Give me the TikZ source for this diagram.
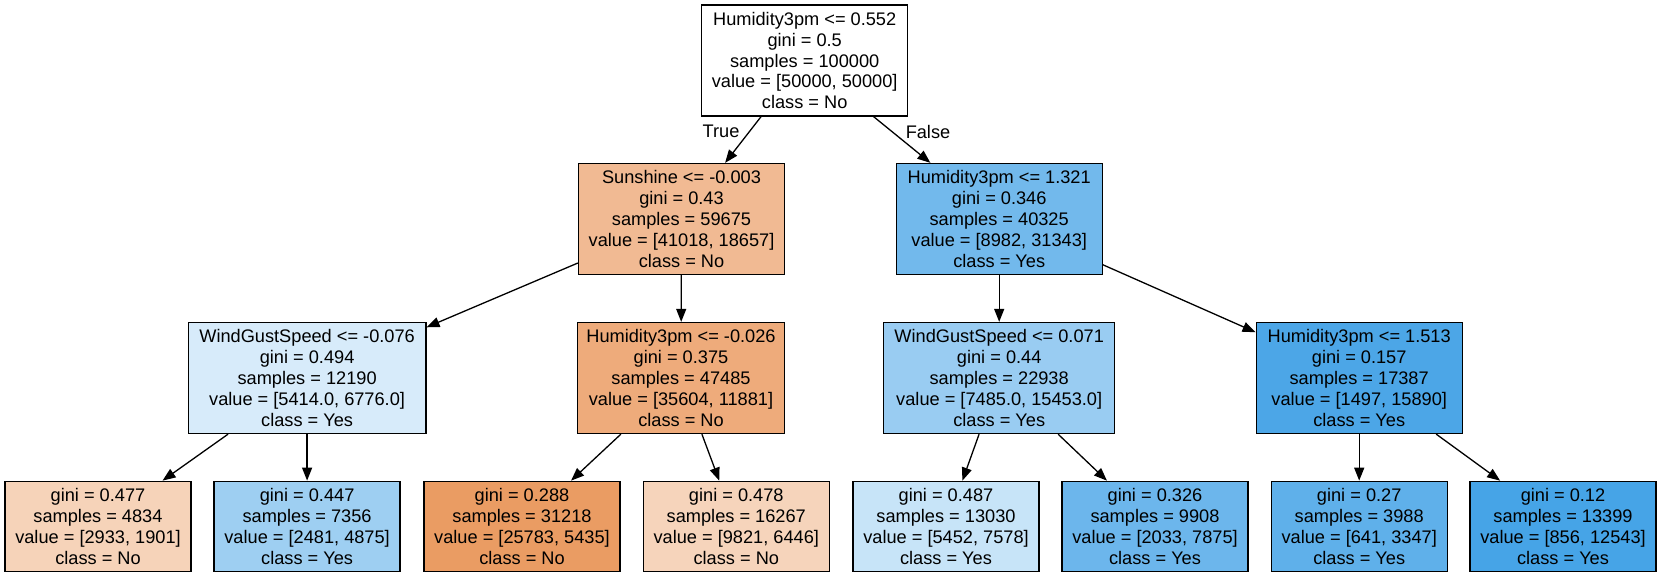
\documentclass[tikz,border=0pt]{standalone}
\usepackage{fontspec}
\setmainfont{Liberation Sans}
\usetikzlibrary{arrows.meta}

\definecolor{fSunshine}{RGB}{241,186,147}
\definecolor{fHumA}{RGB}{114,185,236}
\definecolor{fWindA}{RGB}{215,235,250}
\definecolor{fHumB}{RGB}{238,171,123}
\definecolor{fWindB}{RGB}{153,204,242}
\definecolor{fHumC}{RGB}{76,166,231}
\definecolor{fLeafA}{RGB}{246,211,185}
\definecolor{fLeafB}{RGB}{158,207,242}
\definecolor{fLeafC}{RGB}{234,156,99}
\definecolor{fLeafD}{RGB}{246,212,187}
\definecolor{fLeafE}{RGB}{199,228,248}
\definecolor{fLeafF}{RGB}{108,182,236}
\definecolor{fLeafG}{RGB}{95,176,234}
\definecolor{fLeafH}{RGB}{70,164,231}

\tikzset{
  dtnode/.style={draw=black, line width=0.65pt, fill=#1, align=center, inner sep=0pt,
    minimum height=55.5pt, font=\fontsize{9.1}{10.4}\selectfont},
  dtleaf/.style={dtnode=#1, minimum height=45.2pt},
  dtedge/.style={-{Triangle[length=6.5pt,width=5pt]}, line width=0.65pt},
  dtlabel/.style={font=\fontsize{9.1}{10.4}\selectfont, inner sep=0pt}
}

\begin{document}
\begin{tikzpicture}[x=0.5pt,y=-0.5pt]
\useasboundingbox (0,0) rectangle (1661,577);
% splits
\node[dtnode=white, minimum width=103pt] (root) at (804.7,60.5) {Humidity3pm <= 0.552\\gini = 0.5\\samples = 100000\\value = [50000, 50000]\\class = No};
\node[dtnode=fSunshine, minimum width=103pt] (sun) at (681.5,219) {Sunshine <= -0.003\\gini = 0.43\\samples = 59675\\value = [41018, 18657]\\class = No};
\node[dtnode=fHumA, minimum width=103pt] (humA) at (999.2,219) {Humidity3pm <= 1.321\\gini = 0.346\\samples = 40325\\value = [8982, 31343]\\class = Yes};
\node[dtnode=fWindA, minimum width=118.75pt] (windA) at (307.1,378) {WindGustSpeed <= -0.076\\gini = 0.494\\samples = 12190\\value = [5414.0, 6776.0]\\class = Yes};
\node[dtnode=fHumB, minimum width=103.5pt] (humB) at (681,378) {Humidity3pm <= -0.026\\gini = 0.375\\samples = 47485\\value = [35604, 11881]\\class = No};
\node[dtnode=fWindB, minimum width=115.5pt] (windB) at (999.2,378) {WindGustSpeed <= 0.071\\gini = 0.44\\samples = 22938\\value = [7485.0, 15453.0]\\class = Yes};
\node[dtnode=fHumC, minimum width=103pt] (humC) at (1359.2,378) {Humidity3pm <= 1.513\\gini = 0.157\\samples = 17387\\value = [1497, 15890]\\class = Yes};
% leaves
\node[dtleaf=fLeafA, minimum width=93pt] (leafA) at (98,526.5) {gini = 0.477\\samples = 4834\\value = [2933, 1901]\\class = No};
\node[dtleaf=fLeafB, minimum width=93pt] (leafB) at (307.1,526.5) {gini = 0.447\\samples = 7356\\value = [2481, 4875]\\class = Yes};
\node[dtleaf=fLeafC, minimum width=98pt] (leafC) at (522,526.5) {gini = 0.288\\samples = 31218\\value = [25783, 5435]\\class = No};
\node[dtleaf=fLeafD, minimum width=93pt] (leafD) at (736.3,526.5) {gini = 0.478\\samples = 16267\\value = [9821, 6446]\\class = No};
\node[dtleaf=fLeafE, minimum width=93pt] (leafE) at (946,526.5) {gini = 0.487\\samples = 13030\\value = [5452, 7578]\\class = Yes};
\node[dtleaf=fLeafF, minimum width=93pt] (leafF) at (1155,526.5) {gini = 0.326\\samples = 9908\\value = [2033, 7875]\\class = Yes};
\node[dtleaf=fLeafG, minimum width=88pt] (leafG) at (1359.2,526.5) {gini = 0.27\\samples = 3988\\value = [641, 3347]\\class = Yes};
\node[dtleaf=fLeafH, minimum width=93pt] (leafH) at (1563,526.5) {gini = 0.12\\samples = 13399\\value = [856, 12543]\\class = Yes};
% edges
\draw[dtedge] (root) -- (sun);
\draw[dtedge] (root) -- (humA);
\draw[dtedge] (sun) -- (windA);
\draw[dtedge] (sun) -- (humB);
\draw[dtedge] (humA) -- (windB);
\draw[dtedge] (humA) -- (humC);
\draw[dtedge] (windA) -- (leafA);
\draw[dtedge] (windA) -- (leafB);
\draw[dtedge] (humB) -- (leafC);
\draw[dtedge] (humB) -- (leafD);
\draw[dtedge] (windB) -- (leafE);
\draw[dtedge] (windB) -- (leafF);
\draw[dtedge] (humC) -- (leafG);
\draw[dtedge] (humC) -- (leafH);
\node[dtlabel] (lblTrue) at (721,131.7) {True};
\node[dtlabel] (lblFalse) at (928,131.7) {False};
\end{tikzpicture}
\end{document}
